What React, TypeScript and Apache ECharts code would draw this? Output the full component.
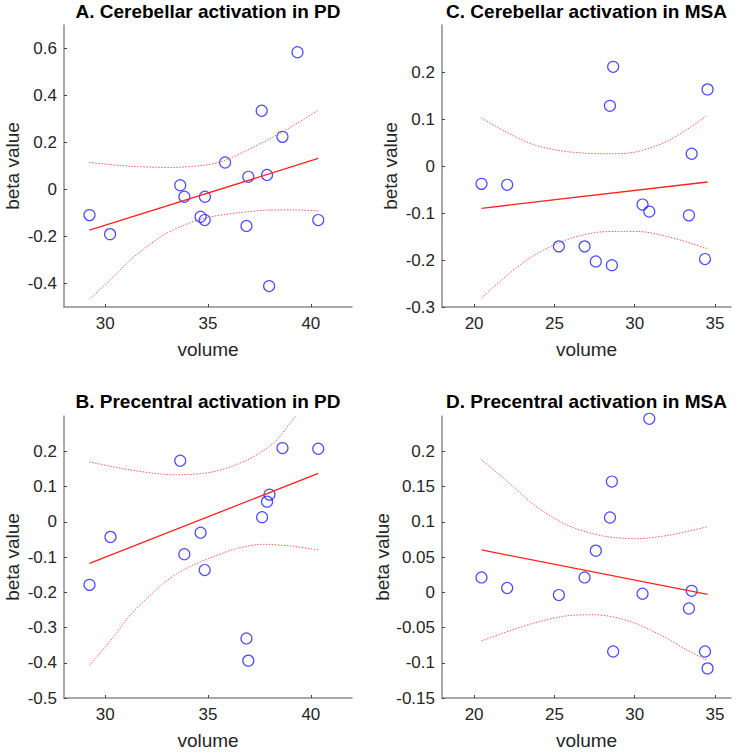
import React, { useEffect, useRef } from "react";
import * as echarts from "echarts";

// ---- Panel A: Cerebellar activation in PD ----
const pdCerebVolume = [29.24, 30.24, 33.65, 33.85, 34.85, 34.64, 34.84, 35.83, 36.96, 36.87, 37.61, 37.87, 37.97, 38.62, 39.35, 40.36];
const pdCerebBeta = [-0.109, -0.19, 0.018, -0.031, -0.031, -0.116, -0.13, 0.115, 0.054, -0.155, 0.335, 0.062, -0.411, 0.224, 0.584, -0.13];
const pdCerebFit = [[29.24, -0.173], [40.36, 0.132]];
const pdCerebUpper = [[29.24, 0.115], [31.21, 0.099], [33.16, 0.094], [34.78, 0.103], [35.75, 0.122], [36.89, 0.167], [38.18, 0.224], [39.32, 0.281], [40.36, 0.338]];
const pdCerebLower = [[29.24, -0.466], [30.4, -0.372], [31.21, -0.301], [32.02, -0.244], [32.83, -0.194], [33.64, -0.159], [34.46, -0.131], [35.27, -0.114], [36.4, -0.1], [37.87, -0.088], [39.2, -0.087], [40.36, -0.091]];

// ---- Panel B: Precentral activation in PD ----
const pdPrecVolume = [29.24, 30.26, 33.65, 33.85, 34.64, 34.84, 36.87, 36.96, 37.63, 37.87, 37.99, 38.62, 40.36];
const pdPrecBeta = [-0.179, -0.043, 0.173, -0.092, -0.031, -0.137, -0.331, -0.394, 0.013, 0.057, 0.077, 0.209, 0.207];
const pdPrecFit = [[29.24, -0.118], [40.36, 0.137]];
const pdPrecUpper = [[29.24, 0.17], [31.21, 0.147], [33.48, 0.133], [35.27, 0.142], [36.89, 0.175], [38.18, 0.223], [39.0, 0.28], [39.45, 0.315]];
const pdPrecLower = [[29.24, -0.408], [30.4, -0.327], [31.21, -0.265], [32.02, -0.218], [32.83, -0.175], [33.64, -0.142], [34.46, -0.118], [35.27, -0.099], [36.4, -0.076], [37.71, -0.064], [39.01, -0.069], [40.36, -0.08]];

// ---- Panels C & D: MSA ----
const msaVolume = [20.46, 22.06, 25.28, 26.88, 27.58, 28.46, 28.58, 28.66, 30.49, 30.91, 33.38, 33.55, 34.38, 34.54];
const msaCerebBeta = [-0.038, -0.04, -0.171, -0.171, -0.203, 0.128, -0.211, 0.211, -0.082, -0.097, -0.105, 0.026, -0.198, 0.163];
const msaCerebFit = [[20.46, -0.09], [34.54, -0.034]];
const msaCerebUpper = [[20.46, 0.102], [22.18, 0.069], [23.84, 0.044], [25.92, 0.03], [28.41, 0.026], [30.08, 0.03], [32.16, 0.055], [34.54, 0.108]];
const msaCerebLower = [[20.46, -0.281], [22.18, -0.229], [23.84, -0.188], [25.92, -0.155], [28.0, -0.14], [30.08, -0.139], [32.16, -0.151], [34.54, -0.176]];

const msaPrecBeta = [0.021, 0.006, -0.004, 0.021, 0.059, 0.106, 0.157, -0.084, -0.002, 0.246, -0.023, 0.002, -0.084, -0.108];
const msaPrecFit = [[20.46, 0.06], [34.54, -0.003]];
const msaPrecUpper = [[20.46, 0.188], [22.18, 0.155], [23.84, 0.122], [25.92, 0.094], [28.0, 0.08], [30.08, 0.076], [32.16, 0.081], [34.54, 0.093]];
const msaPrecLower = [[20.46, -0.069], [22.18, -0.055], [23.84, -0.043], [25.92, -0.033], [27.58, -0.032], [29.66, -0.041], [31.74, -0.062], [33.19, -0.081], [34.54, -0.097]];

// ---- Ticks ----
const pdXTicks = [30, 35, 40];
const msaXTicks = [20, 25, 30, 35];
const aYTicks = [-0.4, -0.2, 0, 0.2, 0.4, 0.6];
const bYTicks = [-0.5, -0.4, -0.3, -0.2, -0.1, 0, 0.1, 0.2];
const cYTicks = [-0.3, -0.2, -0.1, 0, 0.1, 0.2];
const dYTicks = [-0.15, -0.1, -0.05, 0, 0.05, 0.1, 0.15, 0.2];

const titles = [
  "A. Cerebellar activation in PD",
  "C. Cerebellar activation in MSA",
  "B. Precentral activation in PD",
  "D. Precentral activation in MSA",
];

const FONT = "Arial, 'Liberation Sans', sans-serif";
const TEXT = "#262626";
const AXIS = "#8c8c8c";

const zip = (xs: number[], ys: number[]) => xs.map((x, i) => [x, ys[i]]);

export default function App() {
  const ref = useRef<HTMLDivElement>(null);
  useEffect(() => {
    if (!ref.current) return;
    const chart = echarts.init(ref.current, undefined, { renderer: "svg" });

    const grids = [
      { left: 64, top: 25, width: 288, height: 282 },
      { left: 442, top: 25, width: 289, height: 282 },
      { left: 64, top: 416, width: 288, height: 282 },
      { left: 442, top: 416, width: 289, height: 282 },
    ];
    const xCfg = [
      { min: 28, max: 42, ticks: pdXTicks },
      { min: 18, max: 36, ticks: msaXTicks },
      { min: 28, max: 42, ticks: pdXTicks },
      { min: 18, max: 36, ticks: msaXTicks },
    ];
    const yCfg = [
      { min: -0.5, max: 0.7, ticks: aYTicks },
      { min: -0.3, max: 0.3, ticks: cYTicks },
      { min: -0.5, max: 0.3, ticks: bYTicks },
      { min: -0.15, max: 0.25, ticks: dYTicks },
    ];

    const axisLine = { show: true, onZero: false, lineStyle: { color: AXIS, width: 1.5 } };
    const tick = (vals: number[]) => ({
      show: true,
      inside: true,
      length: 3,
      customValues: vals,
      lineStyle: { color: "#444", width: 1 },
    });

    const panels = [
      { x: pdCerebVolume, y: pdCerebBeta, fit: pdCerebFit, up: pdCerebUpper, lo: pdCerebLower },
      { x: msaVolume, y: msaCerebBeta, fit: msaCerebFit, up: msaCerebUpper, lo: msaCerebLower },
      { x: pdPrecVolume, y: pdPrecBeta, fit: pdPrecFit, up: pdPrecUpper, lo: pdPrecLower },
      { x: msaVolume, y: msaPrecBeta, fit: msaPrecFit, up: msaPrecUpper, lo: msaPrecLower },
    ];

    const series: any[] = [];
    panels.forEach((p, i) => {
      const ciStyle = { color: "#ff5a5a", width: 1, type: [1.5, 1.5] as any };
      series.push({
        type: "line", xAxisIndex: i, yAxisIndex: i, data: p.up, smooth: 0.3,
        showSymbol: false, symbol: "none", lineStyle: ciStyle, clip: true,
      });
      series.push({
        type: "line", xAxisIndex: i, yAxisIndex: i, data: p.lo, smooth: 0.3,
        showSymbol: false, symbol: "none", lineStyle: ciStyle, clip: true,
      });
      series.push({
        type: "line", xAxisIndex: i, yAxisIndex: i, data: p.fit,
        showSymbol: false, symbol: "none", lineStyle: { color: "#ff2020", width: 1.3 },
      });
      series.push({
        type: "scatter", xAxisIndex: i, yAxisIndex: i, data: zip(p.x, p.y),
        symbol: "circle", symbolSize: 11,
        itemStyle: { color: "rgba(0,0,0,0)", borderColor: "#1f1fff", borderWidth: 1.2 },
      });
    });

    chart.setOption({
      animation: false,
      backgroundColor: "#ffffff",
      title: titles.map((t, i) => ({
        text: t,
        left: grids[i].left + grids[i].width / 2,
        top: i < 2 ? 2 : 392,
        textAlign: "center",
        padding: 0,
        textStyle: { fontFamily: FONT, fontSize: 19, fontWeight: "bold", color: "#000" },
      })),
      grid: grids,
      xAxis: xCfg.map((c, i) => ({
        type: "value",
        gridIndex: i,
        min: c.min,
        max: c.max,
        name: "volume",
        nameLocation: "middle",
        nameGap: 33,
        nameTextStyle: { fontFamily: FONT, fontSize: 19, color: TEXT },
        axisLine,
        axisTick: tick(c.ticks),
        axisLabel: { customValues: c.ticks, fontFamily: FONT, fontSize: 17, color: TEXT, margin: 8 },
        splitLine: { show: false },
      })),
      yAxis: yCfg.map((c, i) => ({
        type: "value",
        gridIndex: i,
        min: c.min,
        max: c.max,
        name: "beta value",
        nameLocation: "middle",
        nameGap: 42,
        nameTextStyle: { fontFamily: FONT, fontSize: 19, color: TEXT },
        axisLine,
        axisTick: tick(c.ticks),
        axisLabel: {
          customValues: c.ticks,
          textStyle: { fontFamily: FONT, fontSize: 17, color: TEXT },
          fontFamily: FONT,
          fontSize: 17,
          color: TEXT,
          margin: 7,
        },
        splitLine: { show: false },
      })),
      series,
    });
    return () => chart.dispose();
  }, []);
  return (
    <div
      ref={ref}
      style={{ position: "fixed", left: 0, top: 0, width: 738, height: 753, background: "#fff" }}
    />
  );
}
